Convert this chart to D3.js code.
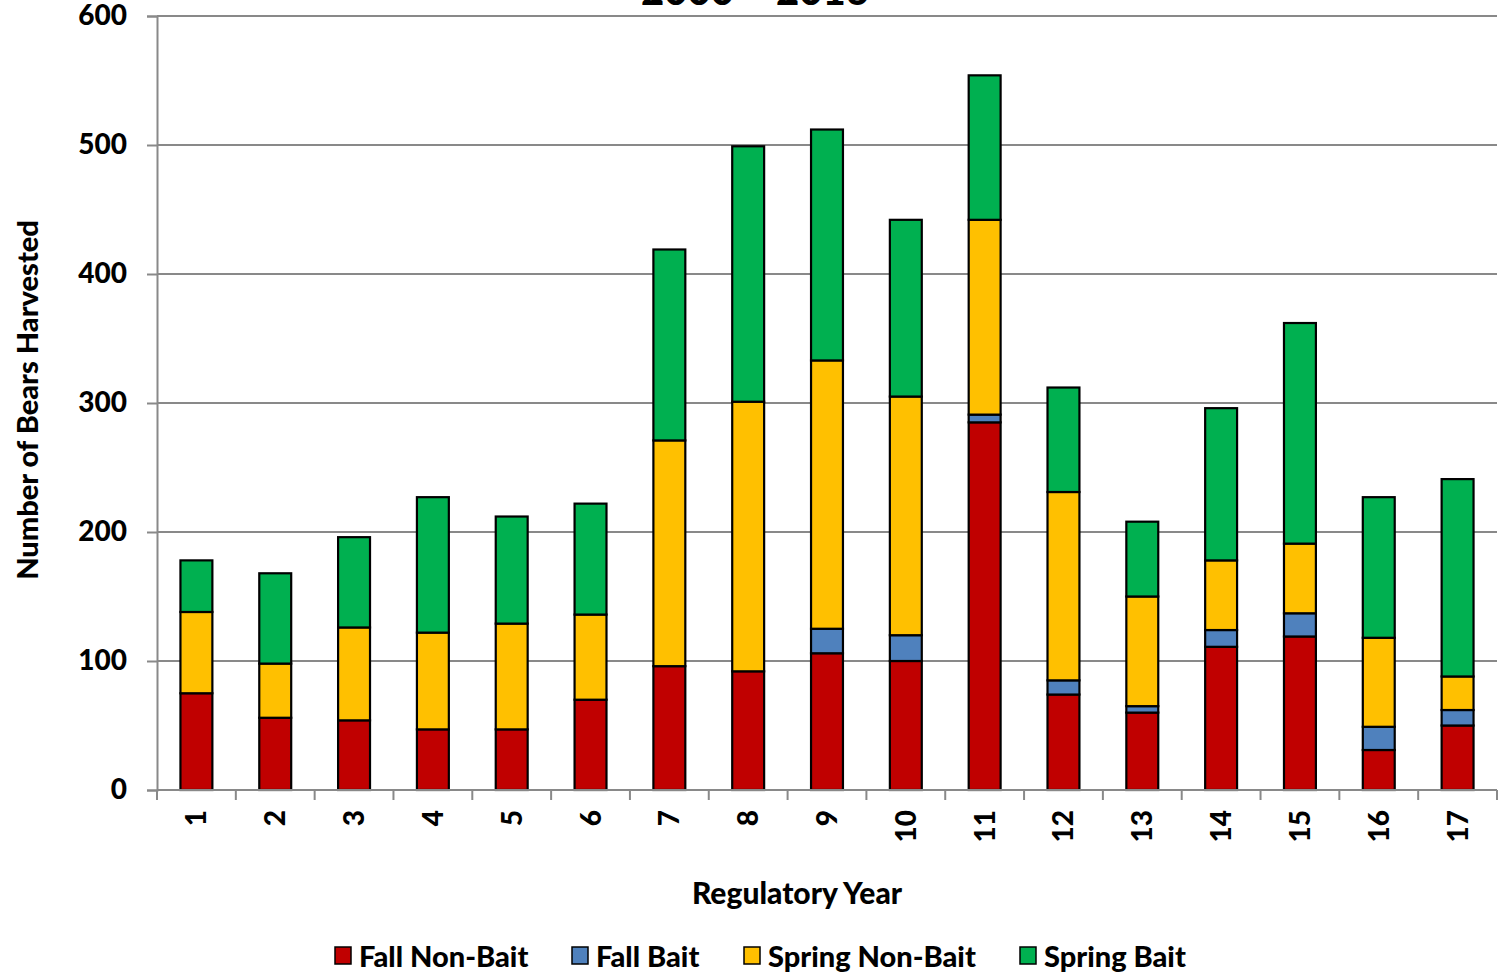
<!DOCTYPE html>
<html><head><meta charset="utf-8">
<script src="https://cdn.jsdelivr.net/npm/d3@7"></script>
<style>body{margin:0;background:#fff}svg{display:block}text{font-family:Lato,"Open Sans",sans-serif;font-weight:900;fill:#000}</style>
</head><body><svg id="c" width="1499" height="980"></svg>
<script>
const years = ["1","2","3","4","5","6","7","8","9","10","11","12","13","14","15","16","17"];
const fallNonBait   = [75,56,54,47,47,70,96,92,106,100,285,74,60,111,119,31,50];
const fallBait      = [0,0,0,0,0,0,0,0,19,20,6,11,5,13,18,18,12];
const springNonBait = [63,42,72,75,82,66,175,209,208,185,151,146,85,54,54,69,26];
const springBait    = [40,70,70,105,83,86,148,198,179,137,112,81,58,118,171,109,153];
const seriesNames = ["Fall Non-Bait","Fall Bait","Spring Non-Bait","Spring Bait"];
const seriesColors = ["#C00000","#4F81BD","#FFC000","#00B050"];
const yTicks = [0,100,200,300,400,500,600];
const title = "2000 \u2013 2016";

const svg = d3.select("#c");
const m = {l:157, r:1497, t:16, b:790};
const x = d3.scaleBand().domain(years).range([m.l, m.r]).paddingInner(0.595).paddingOuter(0.2975);
const y = d3.scaleLinear().domain([0,600]).range([m.b, m.t]);

const table = years.map((yr,i)=>({yr, "Fall Non-Bait":fallNonBait[i], "Fall Bait":fallBait[i], "Spring Non-Bait":springNonBait[i], "Spring Bait":springBait[i]}));
const stack = d3.stack().keys(seriesNames)(table);

// title (cut off at top as in the reference)
svg.append("text").attr("x",755).attr("y",5).attr("text-anchor","middle").style("font-size","40px").text(title);

// gridlines
svg.append("g").selectAll("line").data(yTicks.slice(1)).join("line")
  .attr("x1",m.l).attr("x2",m.r).attr("y1",d=>y(d)).attr("y2",d=>y(d))
  .attr("stroke","#898989").attr("stroke-width",2);

// y axis
const ya = svg.append("g").attr("transform",`translate(${m.l},0)`)
  .call(d3.axisLeft(y).tickValues(yTicks).tickSize(10).tickPadding(20));
ya.select(".domain").attr("stroke","#898989").attr("stroke-width",2);
ya.selectAll(".tick line").attr("stroke","#898989").attr("stroke-width",2);
ya.selectAll(".tick text").style("font-size","28px").style("font-family","Lato, sans-serif").style("font-weight","900").attr("fill","#000");

// bars
svg.append("g").selectAll("g").data(stack).join("g")
  .attr("fill",(d,i)=>seriesColors[i])
  .selectAll("rect").data(d=>d.filter(s=>s[1]-s[0]>0)).join("rect")
  .attr("x",d=>x(d.data.yr)).attr("width",x.bandwidth())
  .attr("y",d=>y(d[1])).attr("height",d=>y(d[0])-y(d[1]))
  .attr("stroke","#000").attr("stroke-width",2.2);

// x axis
const xa = svg.append("g").attr("transform",`translate(0,${m.b})`);
xa.append("line").attr("x1",m.l).attr("x2",m.r).attr("stroke","#898989").attr("stroke-width",2);
xa.selectAll(".tk").data(d3.range(years.length+1)).join("line").attr("class","tk")
  .attr("x1",i=>m.l+i*(m.r-m.l)/years.length).attr("x2",i=>m.l+i*(m.r-m.l)/years.length)
  .attr("y1",0).attr("y2",10).attr("stroke","#898989").attr("stroke-width",2);
xa.selectAll(".lb").data(years).join("text").attr("class","lb")
  .attr("transform",d=>`translate(${x(d)+x.bandwidth()/2+10},20) rotate(-90)`)
  .attr("text-anchor","end").style("font-size","28px").text(d=>d);

// axis titles
svg.append("text").attr("x",797).attr("y",904).attr("text-anchor","middle").style("font-size","30px").text("Regulatory Year");
svg.append("text").attr("transform","translate(38,400) rotate(-90)").attr("text-anchor","middle").style("font-size","29px").text("Number of Bears Harvested");

// legend
const lx = [335,572,744,1020];
const lg = svg.append("g").selectAll("g").data(seriesNames).join("g")
  .attr("transform",(d,i)=>`translate(${lx[i]},956)`);
lg.append("rect").attr("x",0).attr("y",-9).attr("width",16).attr("height",17)
  .attr("fill",(d,i)=>seriesColors[i]).attr("stroke","#000").attr("stroke-width",1.5);
lg.append("text").attr("x",24).attr("y",11).style("font-size","29px").text(d=>d);
</script></body></html>
